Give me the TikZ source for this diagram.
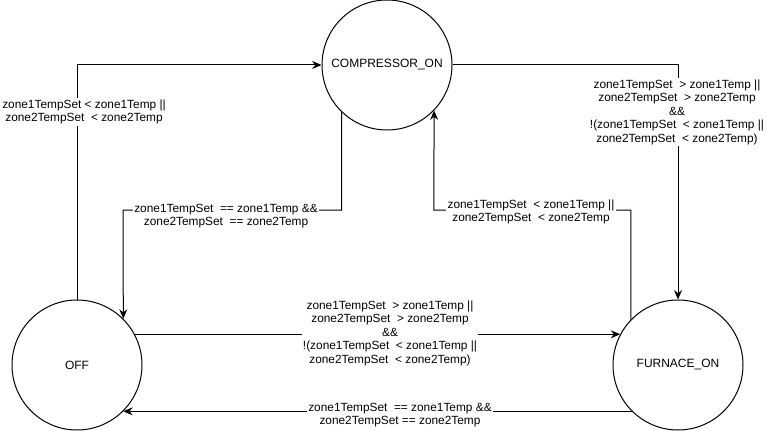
\documentclass[tikz,border=0pt]{standalone}
\usepackage{fontspec}
\setmainfont{Liberation Sans}
\usetikzlibrary{arrows.meta}

\tikzset{
	state/.style = {draw, circle, minimum size=97.5pt, inner sep=0pt, font=\fontsize{9}{10.5}\selectfont},
	cond/.style = {fill=white, inner sep=1pt, align=center, font=\fontsize{8.9}{10.1}\selectfont}
}

\begin{document}
\begin{tikzpicture}[x=0.75pt, y=-0.75pt, line width=0.75pt, >={Stealth[length=7pt, width=6pt]}]
	\useasboundingbox (0,0) rectangle (767,431);
	\node[state] (comp) at (387,65) {COMPRESSOR\_ON};
	\node[state] (off) at (77,365) {OFF};
	\node[state] (furn) at (678,365) {FURNACE\_ON};
	\coordinate (offbend) at (123,210);
	\coordinate (compbend) at (433.8,210);
	\draw[->] (off.north) |- (comp.west);
	\draw[->] (comp.east) -| (furn.north);
	\draw[->] (comp.226) |- (offbend) -- (off.45);
	\draw[->] (furn.136) |- (compbend) -- (comp.316);
	\draw[->] (off.28) -- (furn.152);
	\draw[->] (furn.225) -- (off.315);
	\node[cond] (offcomp) at (84,112) {zone1TempSet < zone1Temp ||\\ zone2TempSet~ < zone2Temp};
	\node[cond] (compfurn) at (677,112) {zone1TempSet~ > zone1Temp ||\\ zone2TempSet~ > zone2Temp\\ \&\&\\ !(zone1TempSet~ < zone1Temp ||\\ zone2TempSet~ < zone2Temp)};
	\node[cond] (compoff) at (226,216) {zone1TempSet~ == zone1Temp \&\&\\ zone2TempSet~ == zone2Temp};
	\node[cond] (furncomp) at (531,212) {zone1TempSet~ < zone1Temp ||\\ zone2TempSet~ < zone2Temp};
	\node[cond] (offfurn) at (390,333) {zone1TempSet~ > zone1Temp ||\\ zone2TempSet~ > zone2Temp\\ \&\&\\ !(zone1TempSet~ < zone1Temp ||\\ zone2TempSet~ < zone2Temp)};
	\node[cond] (furnoff) at (400,415) {zone1TempSet~ == zone1Temp \&\&\\ zone2TempSet == zone2Temp};
\end{tikzpicture}
\end{document}
